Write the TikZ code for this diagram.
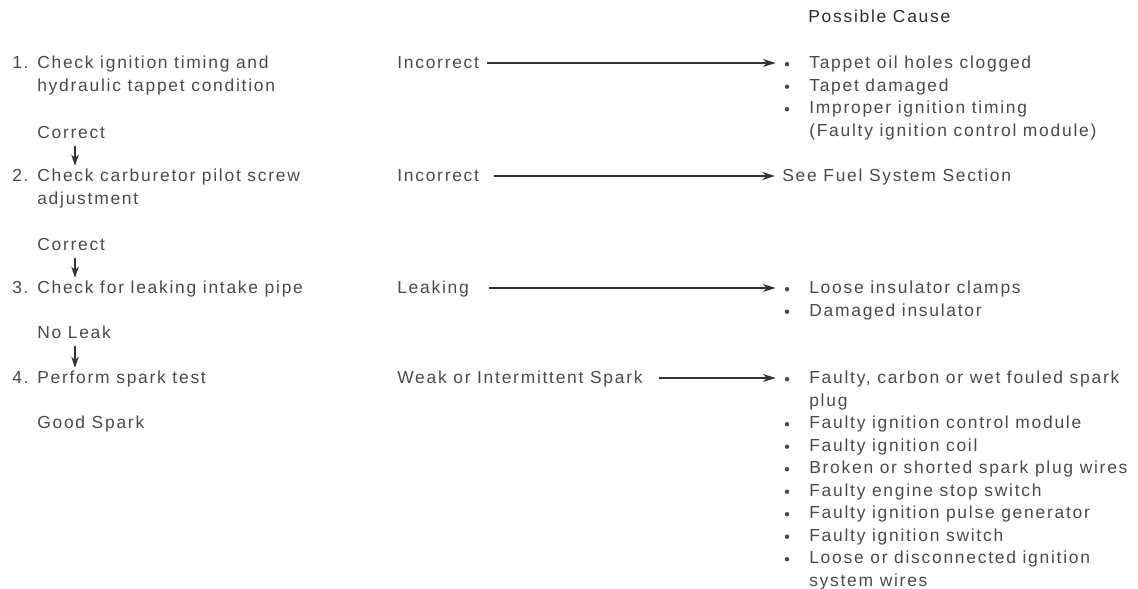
\documentclass[tikz,border=0pt]{standalone}
\usepackage{fontspec}
\setmainfont{Liberation Sans}[LetterSpace=10]
\usetikzlibrary{arrows.meta}
\definecolor{ink}{HTML}{4A4A4A}
\definecolor{lead}{HTML}{333333}
\definecolor{head}{HTML}{2E2E2E}
\tikzset{
  txt/.style={anchor=west,inner sep=0pt,text=ink,text height=8.5pt,text depth=0pt,
    font=\fontsize{12.4}{15}\selectfont},
  headtxt/.style={txt,text=head},
  leadarrow/.style={-{Stealth[length=3.2mm,width=2mm]},line width=1pt,draw=lead},
  downarrow/.style={-{Stealth[length=2.8mm,width=1.9mm]},line width=1pt,draw=lead,
    shorten <=.16cm,shorten >=.1cm},
  causedot/.style={circle,inner sep=0pt,minimum size=3.2pt,fill=ink},
}

\begin{document}
\begin{tikzpicture}[x=1cm,y=1cm]
  \useasboundingbox (0,0) rectangle (28.45,14.725);

  % Check sequence down the left side.
  \node[txt] (s1) at (.30,13.15) {\makebox[.625cm][l]{1.}Check ignition timing and};
  \node[txt] (s1b) at (.925,12.59) {hydraulic tappet condition};
  \node[txt] (ok1) at (.925,11.40) {Correct};
  \node[txt] (s2) at (.30,10.325) {\makebox[.625cm][l]{2.}Check carburetor pilot screw};
  \node[txt] (s2b) at (.925,9.76) {adjustment};
  \node[txt] (ok2) at (.925,8.60) {Correct};
  \node[txt] (s3) at (.30,7.525) {\makebox[.625cm][l]{3.}Check for leaking intake pipe};
  \node[txt] (ok3) at (.925,6.40) {No Leak};
  \node[txt] (s4) at (.30,5.275) {\makebox[.625cm][l]{4.}Perform spark test};
  \node[txt] (ok4) at (.925,4.15) {Good Spark};
  \coordinate (spine) at (1.875,0);
  \draw[downarrow] (ok1.south -| spine) -- (s2.north -| spine);
  \draw[downarrow] (ok2.south -| spine) -- (s3.north -| spine);
  \draw[downarrow] (ok3.south -| spine) -- (s4.north -| spine);

  % Results in the middle column.
  \node[txt] (m1) at (9.925,13.15) {Incorrect};
  \node[txt] (m2) at (9.925,10.325) {Incorrect};
  \node[txt] (m3) at (9.925,7.525) {Leaking};
  \node[txt] (m4) at (9.925,5.275) {Weak or Intermittent Spark};

  % Possible causes on the right.
  \node[headtxt] (head) at (20.20,14.30) {Possible Cause};
  \foreach \t [count=\i from 0] in {Tappet oil holes clogged,Tapet damaged,
      Improper ignition timing,(Faulty ignition control module)}
    \node[txt] (k1-\i) at (20.225,{13.15-.5625*\i}) {\t};
  \node[txt] (k2-0) at (19.55,10.325) {See Fuel System Section};
  \foreach \t [count=\i from 0] in {Loose insulator clamps,Damaged insulator}
    \node[txt] (k3-\i) at (20.225,{7.525-.5625*\i}) {\t};
  \foreach \t [count=\i from 0] in {{Faulty, carbon or wet fouled spark},plug,
      Faulty ignition control module,Faulty ignition coil,
      Broken or shorted spark plug wires,Faulty engine stop switch,
      Faulty ignition pulse generator,Faulty ignition switch,
      Loose or disconnected ignition,system wires}
    \node[txt] (k4-\i) at (20.225,{5.275-.5625*\i}) {\t};
  % Bullets.
  \foreach \i in {0,1,2}
    \node[causedot] (d1-\i) at (19.675,{13.15-.5625*\i-.03}) {};
  \foreach \i in {0,1}
    \node[causedot] (d3-\i) at (19.675,{7.525-.5625*\i-.03}) {};
  \foreach \i in {0,2,3,4,5,6,7,8}
    \node[causedot] (d4-\i) at (19.675,{5.275-.5625*\i-.03}) {};

  \draw[leadarrow,shorten <=.2cm,shorten >=.22cm] (m1.east) -- (m1.east -| d1-0.west);
  \draw[leadarrow,shorten <=.375cm,shorten >=.175cm] (m2.east) -- (m2.east -| k2-0.west);
  \draw[leadarrow,shorten <=.5cm,shorten >=.22cm] (m3.east) -- (m3.east -| d3-0.west);
  \draw[leadarrow,shorten <=.4cm,shorten >=.22cm] (m4.east) -- (m4.east -| d4-0.west);
\end{tikzpicture}
\end{document}
